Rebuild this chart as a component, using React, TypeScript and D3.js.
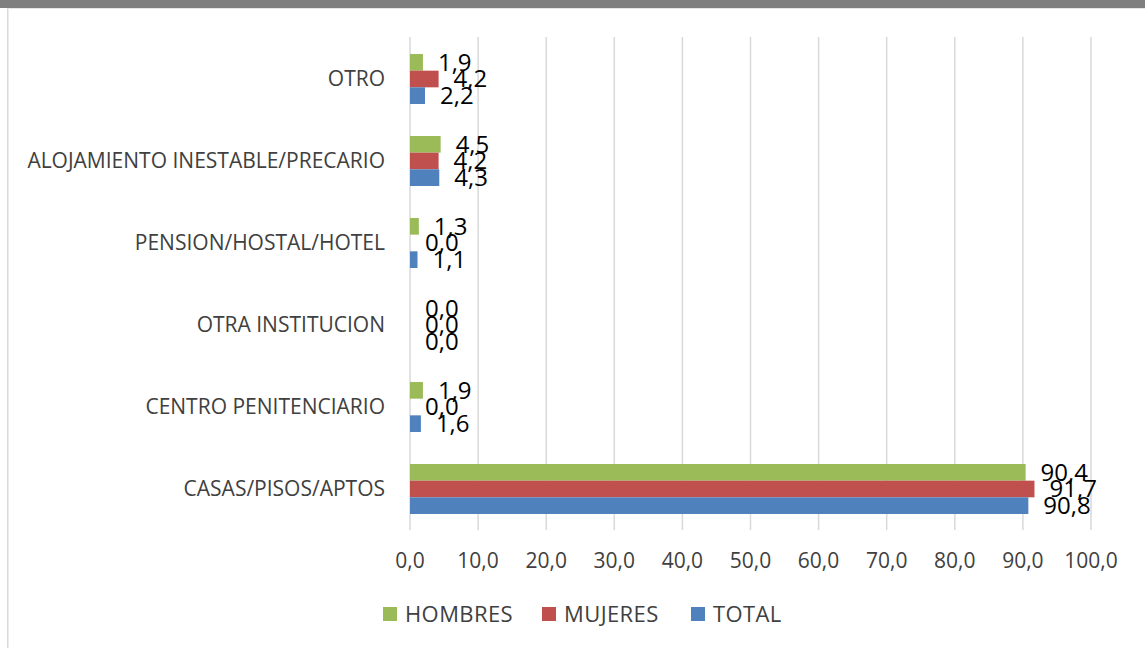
import React from "react";
import * as d3 from "d3";

const categories = [
  "OTRO",
  "ALOJAMIENTO INESTABLE/PRECARIO",
  "PENSION/HOSTAL/HOTEL",
  "OTRA INSTITUCION",
  "CENTRO PENITENCIARIO",
  "CASAS/PISOS/APTOS",
];
const seriesNames = ["HOMBRES", "MUJERES", "TOTAL"];
const seriesColors = ["#9bbb59", "#c0504d", "#4f81bd"];
const hombres = [1.9, 4.5, 1.3, 0.0, 1.9, 90.4];
const mujeres = [4.2, 4.2, 0.0, 0.0, 0.0, 91.7];
const total = [2.2, 4.3, 1.1, 0.0, 1.6, 90.8];
const xTicks = [0, 10, 20, 30, 40, 50, 60, 70, 80, 90, 100];

const seriesValues = [hombres, mujeres, total];
const fmt = (v: number) => v.toFixed(1).replace(".", ",");
const FONT = "'Open Sans', 'Liberation Sans', sans-serif";

export default function App() {
  const W = 1145, H = 648;
  const x = d3.scaleLinear().domain([0, 100]).range([410, 1091]);
  const y = d3.scaleBand().domain(categories).range([38, 530]).paddingInner(0.39).paddingOuter(0.195);
  const inner = d3.scaleBand().domain(seriesNames).range([0, y.bandwidth()]);

  const legendItems = [
    { x: 383, tx: 405 },
    { x: 542, tx: 564 },
    { x: 691, tx: 713 },
  ];

  return (
    <svg width={W} height={H} style={{ position: "absolute", left: 0, top: 0, display: "block" }} fontFamily={FONT}>
      <rect x={0} y={0} width={W} height={H} fill="#ffffff" />
      <rect x={0} y={0} width={W} height={8} fill="#7f7f7f" />
      <rect x={7} y={8} width={1.5} height={H - 8} fill="#d9d9d9" />
      <rect x={8} y={8} width={W - 8} height={1} fill="#e6e6e6" />
      {xTicks.map((t) => (
        <line key={"g" + t} x1={x(t)} x2={x(t)} y1={37} y2={530} stroke="#d9d9d9" strokeWidth={1.5} />
      ))}
      {xTicks.map((t) => (
        <text key={"t" + t} x={x(t)} y={561} dy="0.35em" textAnchor="middle" fontSize={21} fill="#404040">
          {fmt(t)}
        </text>
      ))}
      {categories.map((c) => (
        <text key={"c" + c} x={385} y={(y(c) as number) + y.bandwidth() / 2} dy="0.35em" textAnchor="end" fontSize={21} fill="#404040">
          {c}
        </text>
      ))}
      {seriesNames.map((s, si) =>
        categories.map((c, ci) => {
          const v = seriesValues[si][ci];
          const by = (y(c) as number) + (inner(s) as number);
          return (
            <g key={s + c}>
              <rect x={x(0)} y={by} width={x(v) - x(0)} height={inner.bandwidth()} fill={seriesColors[si]} />
              <text x={x(v) + 15} y={by + inner.bandwidth() / 2} dy="0.35em" fontSize={24} fill="#000000">
                {fmt(v)}
              </text>
            </g>
          );
        })
      )}
      {seriesNames.map((s, si) => (
        <g key={"l" + s}>
          <rect x={legendItems[si].x} y={607} width={14} height={14} fill={seriesColors[si]} />
          <text x={legendItems[si].tx} y={614} dy="0.35em" fontSize={22} letterSpacing={0.4} fill="#404040">
            {s}
          </text>
        </g>
      ))}
    </svg>
  );
}
